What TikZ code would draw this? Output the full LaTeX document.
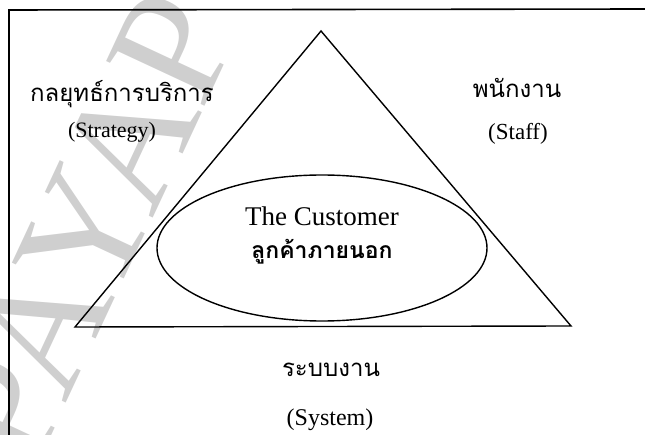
\documentclass[tikz,border=0pt]{standalone}
\usepackage{fontspec}
\usetikzlibrary{shapes.geometric}
\setmainfont{Liberation Serif}
\newfontfamily\thaifont[Script=Thai]{Loma}
\begin{document}
\begin{tikzpicture}[x=1pt,y=-1pt,
  frameline/.style={line width=1.6pt,black},
  shapeline/.style={line width=1.4pt,black},
  thailabel/.style={font=\thaifont\fontsize{#1}{#1}\selectfont,inner sep=0pt},
  englabel/.style={font=\fontsize{#1}{#1}\selectfont,inner sep=0pt},
  mark text/.style={font=\fontsize{165}{165}\selectfont,text=black!19,inner sep=0pt}]
\useasboundingbox (0,0) rectangle (645,435);
% faint background lettering
\node[mark text,rotate=65] (wm) at (88,228) {PAYAP};
% frame
\coordinate (fTL) at (9,10);
\coordinate (fTR) at (645,9);
\coordinate (fBL) at (9,435);
\draw[frameline] (fTR) -- (fTL) -- (fBL);
% triangle
\coordinate (apex) at (321,31);
\coordinate (bl) at (75,327);
\coordinate (br) at (571,326);
\draw[shapeline,line join=miter] (apex) -- (bl) -- (br) -- cycle;
% customer ellipse
\node[shapeline,draw,ellipse,minimum width=330pt,minimum height=146pt,inner sep=0pt] (cust) at (322,248) {};
\node[englabel=27] (custen) at (322,216) {The Customer};
\node[thailabel=23] (custth) at (322,252) {\bfseries ลูกค้าภายนอก};
% corner labels
\node[thailabel=24] (stratth) at (122,94) {กลยุทธ์การบริการ};
\node[englabel=22] (straten) at (112,132) {(Strategy)};
\node[thailabel=24] (staffth) at (517,88) {พนักงาน};
\node[englabel=23] (staffen) at (518,134) {(Staff)};
\node[thailabel=24] (systh) at (331,370) {ระบบงาน};
\node[englabel=24] (sysen) at (330,420) {(System)};
\end{tikzpicture}
\end{document}
